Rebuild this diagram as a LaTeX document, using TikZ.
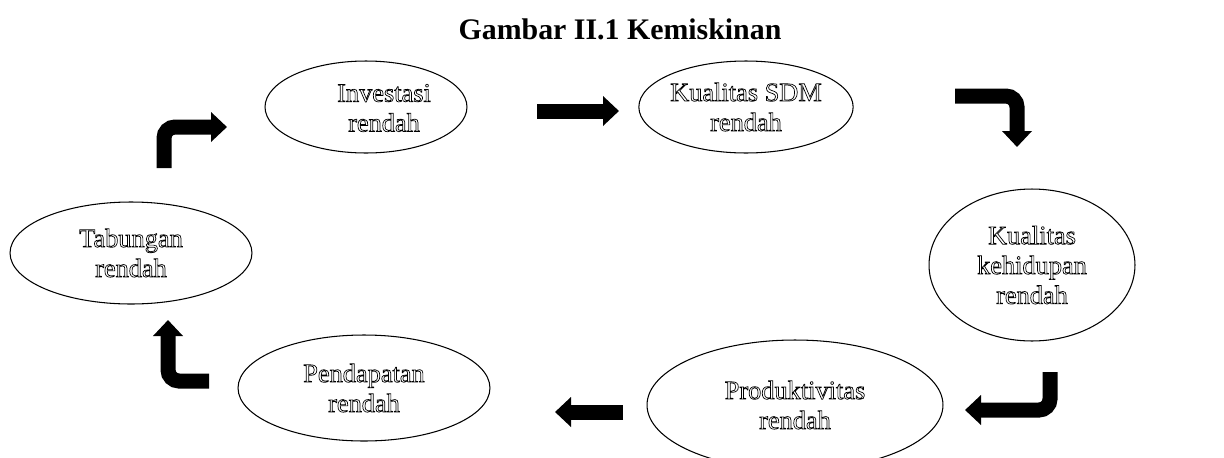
\documentclass[tikz,border=0pt]{standalone}
\usepackage{fontspec}
\setmainfont{Liberation Serif}
\usetikzlibrary{shapes, positioning, arrows.meta}

\newcommand{\hollow}[1]{\special{pdf:literal direct 1 Tr 0.4 w}#1\special{pdf:literal direct 0 Tr}}

\tikzset{
    oval/.style={ellipse, draw=black, line width=0.6pt, inner sep=0pt, align=center,
        font=\fontsize{15}{17}\selectfont},
    bigarrow/.style={line width=0.3cm, rounded corners=0.22cm,
        -{Triangle[width=0.58cm, length=0.32cm]}}
}

\begin{document}
\begin{tikzpicture}[x=0.02cm, y=-0.02cm]
            \clip (0, 0) rectangle (1224, 457);

            \node[font=\fontsize{17}{19}\selectfont\bfseries] (judul) at (620, 29) {Gambar II.1 Kemiskinan};

            \node[oval, minimum width=4.04cm, minimum height=1.84cm] (investasi) at (366, 107) {};
            \node[align=center, font=\fontsize{15}{17}\selectfont] (tinvestasi) at (384, 108) {\hollow{Investasi}\\\hollow{rendah}};
            \node[oval, minimum width=4.12cm, minimum height=1.84cm] (sdm) at (746, 107) {\hollow{Kualitas SDM}\\\hollow{rendah}};
            \node[oval, minimum width=4.12cm, minimum height=3.04cm] (kehidupan) at (1032, 265) {\hollow{Kualitas}\\\hollow{kehidupan}\\\hollow{rendah}};
            \node[oval, minimum width=5.92cm, minimum height=2.6cm] (produktivitas) at (795, 405) {\hollow{Produktivitas}\\\hollow{rendah}};
            \node[oval, minimum width=5.04cm, minimum height=2.12cm] (pendapatan) at (364, 388) {\hollow{Pendapatan}\\\hollow{rendah}};
            \node[oval, minimum width=4.84cm, minimum height=2.04cm] (tabungan) at (131, 253) {\hollow{Tabungan}\\\hollow{rendah}};

            \coordinate (a1) at (537, 111);
            \coordinate (a2) at (619, 111);
            \coordinate (b1) at (955, 96);
            \coordinate (b2) at (1017, 96);
            \coordinate (b3) at (1017, 147);
            \coordinate (c1) at (1050, 372);
            \coordinate (c2) at (1050, 410);
            \coordinate (c3) at (965, 410);
            \coordinate (d1) at (623, 412);
            \coordinate (d2) at (555, 412);
            \coordinate (e1) at (209, 381);
            \coordinate (e2) at (168, 381);
            \coordinate (e3) at (168, 320);
            \coordinate (f1) at (164, 168);
            \coordinate (f2) at (164, 127);
            \coordinate (f3) at (227, 127);

            \draw[bigarrow] (a1) -- (a2);
            \draw[bigarrow] (b1) -- (b2) -- (b3);
            \draw[bigarrow] (c1) -- (c2) -- (c3);
            \draw[bigarrow] (d1) -- (d2);
            \draw[bigarrow] (e1) -- (e2) -- (e3);
            \draw[bigarrow] (f1) -- (f2) -- (f3);
        \end{tikzpicture}
\end{document}
